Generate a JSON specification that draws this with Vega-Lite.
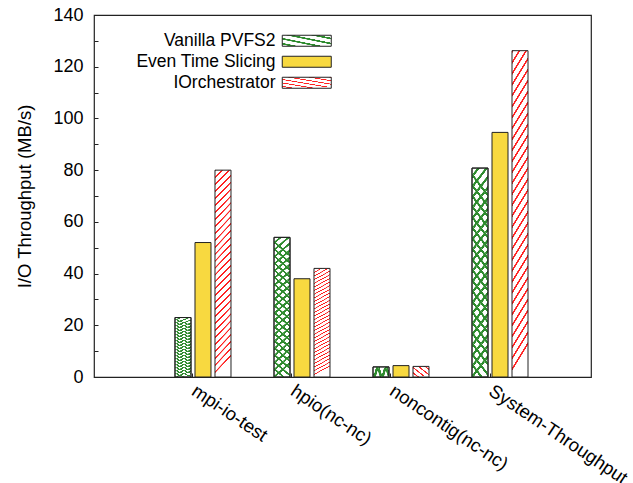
{
  "$schema": "https://vega.github.io/schema/vega-lite/v6.json",
  "autosize": {"type": "none"},
  "width": 497,
  "height": 362,
  "padding": {"left": 94, "top": 15, "right": 42, "bottom": 106},
  "background": "white",
  "config": {
    "font": "Liberation Sans",
    "view": {"stroke": "#222", "strokeWidth": 1.2},
    "axis": {"labelColor": "black", "titleColor": "black", "tickColor": "#222", "labelFont": "Liberation Sans", "titleFont": "Liberation Sans"},
    "legend": {"labelFont": "Liberation Sans", "labelColor": "black"}
  },
  "params": [
    {"name": "gA", "expr": "{gradient:'linear',x1:0,y1:0,x2:0.1,y2:1,stops:[{offset:0,color:'#fff'},{offset:0.03,color:'#fff'},{offset:0.034,color:'#2e8b2e'},{offset:0.048,color:'#2e8b2e'},{offset:0.05,color:'#fff'},{offset:0.08,color:'#fff'},{offset:0.084,color:'#2e8b2e'},{offset:0.098,color:'#2e8b2e'},{offset:0.1,color:'#fff'},{offset:0.13,color:'#fff'},{offset:0.134,color:'#2e8b2e'},{offset:0.148,color:'#2e8b2e'},{offset:0.15,color:'#fff'},{offset:0.18,color:'#fff'},{offset:0.184,color:'#2e8b2e'},{offset:0.198,color:'#2e8b2e'},{offset:0.2,color:'#fff'},{offset:0.23,color:'#fff'},{offset:0.234,color:'#2e8b2e'},{offset:0.248,color:'#2e8b2e'},{offset:0.25,color:'#fff'},{offset:0.28,color:'#fff'},{offset:0.284,color:'#2e8b2e'},{offset:0.298,color:'#2e8b2e'},{offset:0.3,color:'#fff'},{offset:0.33,color:'#fff'},{offset:0.334,color:'#2e8b2e'},{offset:0.348,color:'#2e8b2e'},{offset:0.35,color:'#fff'},{offset:0.38,color:'#fff'},{offset:0.384,color:'#2e8b2e'},{offset:0.398,color:'#2e8b2e'},{offset:0.4,color:'#fff'},{offset:0.43,color:'#fff'},{offset:0.434,color:'#2e8b2e'},{offset:0.448,color:'#2e8b2e'},{offset:0.45,color:'#fff'},{offset:0.48,color:'#fff'},{offset:0.484,color:'#2e8b2e'},{offset:0.498,color:'#2e8b2e'},{offset:0.5,color:'#fff'},{offset:0.53,color:'#fff'},{offset:0.534,color:'#2e8b2e'},{offset:0.548,color:'#2e8b2e'},{offset:0.55,color:'#fff'},{offset:0.58,color:'#fff'},{offset:0.584,color:'#2e8b2e'},{offset:0.598,color:'#2e8b2e'},{offset:0.6,color:'#fff'},{offset:0.63,color:'#fff'},{offset:0.634,color:'#2e8b2e'},{offset:0.648,color:'#2e8b2e'},{offset:0.65,color:'#fff'},{offset:0.68,color:'#fff'},{offset:0.684,color:'#2e8b2e'},{offset:0.698,color:'#2e8b2e'},{offset:0.7,color:'#fff'},{offset:0.73,color:'#fff'},{offset:0.734,color:'#2e8b2e'},{offset:0.748,color:'#2e8b2e'},{offset:0.75,color:'#fff'},{offset:0.78,color:'#fff'},{offset:0.784,color:'#2e8b2e'},{offset:0.798,color:'#2e8b2e'},{offset:0.8,color:'#fff'},{offset:0.83,color:'#fff'},{offset:0.834,color:'#2e8b2e'},{offset:0.848,color:'#2e8b2e'},{offset:0.85,color:'#fff'},{offset:0.88,color:'#fff'},{offset:0.884,color:'#2e8b2e'},{offset:0.898,color:'#2e8b2e'},{offset:0.9,color:'#fff'},{offset:0.93,color:'#fff'},{offset:0.934,color:'#2e8b2e'},{offset:0.948,color:'#2e8b2e'},{offset:0.95,color:'#fff'},{offset:0.98,color:'#fff'},{offset:0.984,color:'#2e8b2e'},{offset:0.998,color:'#2e8b2e'},{offset:1,color:'#fff'}]}"},
    {"name": "rA", "expr": "{gradient:'linear',x1:0,y1:0,x2:0.08,y2:1,stops:[{offset:0,color:'#f22'},{offset:0.0073,color:'#f22'},{offset:0.009,color:'#fff'},{offset:0.0317,color:'#fff'},{offset:0.0333,color:'#f22'},{offset:0.0406,color:'#f22'},{offset:0.0423,color:'#fff'},{offset:0.065,color:'#fff'},{offset:0.0667,color:'#f22'},{offset:0.074,color:'#f22'},{offset:0.0757,color:'#fff'},{offset:0.0984,color:'#fff'},{offset:0.1,color:'#f22'},{offset:0.1073,color:'#f22'},{offset:0.109,color:'#fff'},{offset:0.1317,color:'#fff'},{offset:0.1333,color:'#f22'},{offset:0.1406,color:'#f22'},{offset:0.1423,color:'#fff'},{offset:0.165,color:'#fff'},{offset:0.1667,color:'#f22'},{offset:0.174,color:'#f22'},{offset:0.1757,color:'#fff'},{offset:0.1984,color:'#fff'},{offset:0.2,color:'#f22'},{offset:0.2073,color:'#f22'},{offset:0.209,color:'#fff'},{offset:0.2317,color:'#fff'},{offset:0.2333,color:'#f22'},{offset:0.2406,color:'#f22'},{offset:0.2423,color:'#fff'},{offset:0.265,color:'#fff'},{offset:0.2667,color:'#f22'},{offset:0.274,color:'#f22'},{offset:0.2757,color:'#fff'},{offset:0.2984,color:'#fff'},{offset:0.3,color:'#f22'},{offset:0.3073,color:'#f22'},{offset:0.309,color:'#fff'},{offset:0.3317,color:'#fff'},{offset:0.3333,color:'#f22'},{offset:0.3406,color:'#f22'},{offset:0.3423,color:'#fff'},{offset:0.365,color:'#fff'},{offset:0.3667,color:'#f22'},{offset:0.374,color:'#f22'},{offset:0.3757,color:'#fff'},{offset:0.3984,color:'#fff'},{offset:0.4,color:'#f22'},{offset:0.4073,color:'#f22'},{offset:0.409,color:'#fff'},{offset:0.4317,color:'#fff'},{offset:0.4333,color:'#f22'},{offset:0.4406,color:'#f22'},{offset:0.4423,color:'#fff'},{offset:0.465,color:'#fff'},{offset:0.4667,color:'#f22'},{offset:0.474,color:'#f22'},{offset:0.4757,color:'#fff'},{offset:0.4984,color:'#fff'},{offset:0.5,color:'#f22'},{offset:0.5073,color:'#f22'},{offset:0.509,color:'#fff'},{offset:0.5317,color:'#fff'},{offset:0.5333,color:'#f22'},{offset:0.5406,color:'#f22'},{offset:0.5423,color:'#fff'},{offset:0.565,color:'#fff'},{offset:0.5667,color:'#f22'},{offset:0.574,color:'#f22'},{offset:0.5757,color:'#fff'},{offset:0.5984,color:'#fff'},{offset:0.6,color:'#f22'},{offset:0.6073,color:'#f22'},{offset:0.609,color:'#fff'},{offset:0.6317,color:'#fff'},{offset:0.6333,color:'#f22'},{offset:0.6406,color:'#f22'},{offset:0.6423,color:'#fff'},{offset:0.665,color:'#fff'},{offset:0.6667,color:'#f22'},{offset:0.674,color:'#f22'},{offset:0.6757,color:'#fff'},{offset:0.6984,color:'#fff'},{offset:0.7,color:'#f22'},{offset:0.7073,color:'#f22'},{offset:0.709,color:'#fff'},{offset:0.7317,color:'#fff'},{offset:0.7333,color:'#f22'},{offset:0.7406,color:'#f22'},{offset:0.7423,color:'#fff'},{offset:0.765,color:'#fff'},{offset:0.7667,color:'#f22'},{offset:0.774,color:'#f22'},{offset:0.7757,color:'#fff'},{offset:0.7984,color:'#fff'},{offset:0.8,color:'#f22'},{offset:0.8073,color:'#f22'},{offset:0.809,color:'#fff'},{offset:0.8317,color:'#fff'},{offset:0.8333,color:'#f22'},{offset:0.8406,color:'#f22'},{offset:0.8423,color:'#fff'},{offset:0.865,color:'#fff'},{offset:0.8667,color:'#f22'},{offset:0.874,color:'#f22'},{offset:0.8757,color:'#fff'},{offset:0.8984,color:'#fff'},{offset:0.9,color:'#f22'},{offset:0.9073,color:'#f22'},{offset:0.909,color:'#fff'},{offset:0.9317,color:'#fff'},{offset:0.9333,color:'#f22'},{offset:0.9406,color:'#f22'},{offset:0.9423,color:'#fff'},{offset:0.965,color:'#fff'},{offset:0.9667,color:'#f22'},{offset:0.974,color:'#f22'},{offset:0.9757,color:'#fff'},{offset:0.9984,color:'#fff'}]}"}
  ],
  "data": {
    "values": [
      {"cat": "mpi-io-test", "series": "Vanilla PVFS2", "value": 23},
      {"cat": "mpi-io-test", "series": "Even Time Slicing", "value": 52},
      {"cat": "mpi-io-test", "series": "IOrchestrator", "value": 80},
      {"cat": "hpio(nc-nc)", "series": "Vanilla PVFS2", "value": 54},
      {"cat": "hpio(nc-nc)", "series": "Even Time Slicing", "value": 38},
      {"cat": "hpio(nc-nc)", "series": "IOrchestrator", "value": 42},
      {"cat": "noncontig(nc-nc)", "series": "Vanilla PVFS2", "value": 3.9},
      {"cat": "noncontig(nc-nc)", "series": "Even Time Slicing", "value": 4.4},
      {"cat": "noncontig(nc-nc)", "series": "IOrchestrator", "value": 4.1},
      {"cat": "System-Throughput", "series": "Vanilla PVFS2", "value": 80.8},
      {"cat": "System-Throughput", "series": "Even Time Slicing", "value": 94.6},
      {"cat": "System-Throughput", "series": "IOrchestrator", "value": 126.2}
    ]
  },
  "encoding": {
    "x": {
      "field": "cat", "type": "nominal",
      "sort": ["mpi-io-test", "hpio(nc-nc)", "noncontig(nc-nc)", "System-Throughput"],
      "scale": {"range": [79, 436], "paddingInner": 0.394, "paddingOuter": 0},
      "axis": {"title": null, "bandPosition": 0.3333, "labelAngle": 34, "labelAlign": "left", "labelBaseline": "top", "labelFontSize": 18.5, "tickSize": -4, "labelPadding": 8, "labelOffset": -4, "domain": false, "labelLimit": 0}
    },
    "xOffset": {
      "field": "series", "type": "nominal",
      "scale": {"domain": ["Vanilla PVFS2", "Even Time Slicing", "IOrchestrator"], "paddingInner": 0.2, "paddingOuter": 0.1}
    },
    "y": {
      "field": "value", "type": "quantitative",
      "scale": {"domain": [0, 140], "nice": false},
      "axis": {
        "title": "I/O Throughput (MB/s)",
        "values": [0, 10, 20, 30, 40, 50, 60, 70, 80, 90, 100, 110, 120, 130, 140],
        "labelExpr": "datum.value % 20 == 0 ? datum.label : ''",
        "tickSize": -4, "labelPadding": 15, "domain": false, "grid": false,
        "labelFontSize": 18, "titleFontSize": 18.5, "titleFontWeight": "normal",
        "titleX": -70, "titleY": 181, "titleAlign": "center", "titleBaseline": "middle", "titleAngle": 270
      }
    }
  },
  "layer": [
    {
      "mark": {"type": "bar", "stroke": "#222", "strokeWidth": 1},
      "encoding": {
        "color": {
          "field": "series", "type": "nominal",
          "scale": {"domain": ["Vanilla PVFS2", "Even Time Slicing", "IOrchestrator"], "range": [{"expr": "gA"}, "#f8d940", {"expr": "rA"}]},
          "legend": {
            "title": null, "orient": "none", "legendX": 204, "legendY": 17,
            "symbolType": "M-4.4545,-1H4.4545V1H-4.4545Z", "symbolSize": 121,
            "symbolStrokeColor": "#222", "symbolStrokeWidth": 1, "symbolOpacity": 1,
            "labelAlign": "right", "labelOffset": -40, "labelFontSize": 17.5, "rowPadding": 2, "padding": 0
          }
        }
      }
    },
    {
      "transform": [{"filter": "datum.series == 'Vanilla PVFS2'"}],
      "mark": {
        "type": "bar", "stroke": "#222", "strokeWidth": 1,
        "fill": {"gradient": "linear", "x1": 0.1, "y1": 0, "x2": 0, "y2": 1, "stops": [
          {"offset": 0, "color": "rgba(255,255,255,0)"}, {"offset": 0.03, "color": "rgba(255,255,255,0)"}, {"offset": 0.034, "color": "#2e8b2e"}, {"offset": 0.048, "color": "#2e8b2e"},
          {"offset": 0.05, "color": "rgba(255,255,255,0)"}, {"offset": 0.08, "color": "rgba(255,255,255,0)"}, {"offset": 0.084, "color": "#2e8b2e"}, {"offset": 0.098, "color": "#2e8b2e"},
          {"offset": 0.1, "color": "rgba(255,255,255,0)"}, {"offset": 0.13, "color": "rgba(255,255,255,0)"}, {"offset": 0.134, "color": "#2e8b2e"}, {"offset": 0.148, "color": "#2e8b2e"},
          {"offset": 0.15, "color": "rgba(255,255,255,0)"}, {"offset": 0.18, "color": "rgba(255,255,255,0)"}, {"offset": 0.184, "color": "#2e8b2e"}, {"offset": 0.198, "color": "#2e8b2e"},
          {"offset": 0.2, "color": "rgba(255,255,255,0)"}, {"offset": 0.23, "color": "rgba(255,255,255,0)"}, {"offset": 0.234, "color": "#2e8b2e"}, {"offset": 0.248, "color": "#2e8b2e"},
          {"offset": 0.25, "color": "rgba(255,255,255,0)"}, {"offset": 0.28, "color": "rgba(255,255,255,0)"}, {"offset": 0.284, "color": "#2e8b2e"}, {"offset": 0.298, "color": "#2e8b2e"},
          {"offset": 0.3, "color": "rgba(255,255,255,0)"}, {"offset": 0.33, "color": "rgba(255,255,255,0)"}, {"offset": 0.334, "color": "#2e8b2e"}, {"offset": 0.348, "color": "#2e8b2e"},
          {"offset": 0.35, "color": "rgba(255,255,255,0)"}, {"offset": 0.38, "color": "rgba(255,255,255,0)"}, {"offset": 0.384, "color": "#2e8b2e"}, {"offset": 0.398, "color": "#2e8b2e"},
          {"offset": 0.4, "color": "rgba(255,255,255,0)"}, {"offset": 0.43, "color": "rgba(255,255,255,0)"}, {"offset": 0.434, "color": "#2e8b2e"}, {"offset": 0.448, "color": "#2e8b2e"},
          {"offset": 0.45, "color": "rgba(255,255,255,0)"}, {"offset": 0.48, "color": "rgba(255,255,255,0)"}, {"offset": 0.484, "color": "#2e8b2e"}, {"offset": 0.498, "color": "#2e8b2e"},
          {"offset": 0.5, "color": "rgba(255,255,255,0)"}, {"offset": 0.53, "color": "rgba(255,255,255,0)"}, {"offset": 0.534, "color": "#2e8b2e"}, {"offset": 0.548, "color": "#2e8b2e"},
          {"offset": 0.55, "color": "rgba(255,255,255,0)"}, {"offset": 0.58, "color": "rgba(255,255,255,0)"}, {"offset": 0.584, "color": "#2e8b2e"}, {"offset": 0.598, "color": "#2e8b2e"},
          {"offset": 0.6, "color": "rgba(255,255,255,0)"}, {"offset": 0.63, "color": "rgba(255,255,255,0)"}, {"offset": 0.634, "color": "#2e8b2e"}, {"offset": 0.648, "color": "#2e8b2e"},
          {"offset": 0.65, "color": "rgba(255,255,255,0)"}, {"offset": 0.68, "color": "rgba(255,255,255,0)"}, {"offset": 0.684, "color": "#2e8b2e"}, {"offset": 0.698, "color": "#2e8b2e"},
          {"offset": 0.7, "color": "rgba(255,255,255,0)"}, {"offset": 0.73, "color": "rgba(255,255,255,0)"}, {"offset": 0.734, "color": "#2e8b2e"}, {"offset": 0.748, "color": "#2e8b2e"},
          {"offset": 0.75, "color": "rgba(255,255,255,0)"}, {"offset": 0.78, "color": "rgba(255,255,255,0)"}, {"offset": 0.784, "color": "#2e8b2e"}, {"offset": 0.798, "color": "#2e8b2e"},
          {"offset": 0.8, "color": "rgba(255,255,255,0)"}, {"offset": 0.83, "color": "rgba(255,255,255,0)"}, {"offset": 0.834, "color": "#2e8b2e"}, {"offset": 0.848, "color": "#2e8b2e"},
          {"offset": 0.85, "color": "rgba(255,255,255,0)"}, {"offset": 0.88, "color": "rgba(255,255,255,0)"}, {"offset": 0.884, "color": "#2e8b2e"}, {"offset": 0.898, "color": "#2e8b2e"},
          {"offset": 0.9, "color": "rgba(255,255,255,0)"}, {"offset": 0.93, "color": "rgba(255,255,255,0)"}, {"offset": 0.934, "color": "#2e8b2e"}, {"offset": 0.948, "color": "#2e8b2e"},
          {"offset": 0.95, "color": "rgba(255,255,255,0)"}, {"offset": 0.98, "color": "rgba(255,255,255,0)"}, {"offset": 0.984, "color": "#2e8b2e"}, {"offset": 0.998, "color": "#2e8b2e"},
          {"offset": 1, "color": "rgba(255,255,255,0)"}
        ]}
      }
    }
  ]
}
